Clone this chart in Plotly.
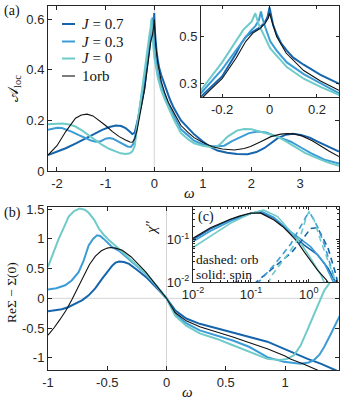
import plotly.graph_objects as go

W, H = 341, 403
def px(x): return x / W
def py(y): return 1 - y / H

# ---------------- data ----------------
series_names = ["J=0.7", "J=0.3", "J=0", "1orb"]
colors = ["#1565ad", "#3c9cd6", "#6fcbc9", "#111111"]
widths = [2.0, 2.0, 2.0, 1.1]

# (a) local spectral function A_loc(w)
wa_07 = [-2.185, -2.0, -1.82, -1.6, -1.41, -1.2, -1.07, -0.92, -0.79, -0.68, -0.59, -0.5, -0.45, -0.4, -0.35,
         -0.29, -0.25, -0.2, -0.17, -0.14, -0.12, -0.1, -0.08, -0.06, -0.04, -0.02, -0.008, 0.0, 0.004, 0.015,
         0.03, 0.05, 0.073, 0.1, 0.144, 0.215, 0.29, 0.33, 0.4, 0.55, 0.7, 0.82, 1.0, 1.16, 1.3, 1.5, 1.7, 1.92,
         2.1, 2.26, 2.4, 2.54, 2.7, 2.85, 3.02, 3.2, 3.36, 3.6, 3.8]
A_07 = [0.063, 0.077, 0.09, 0.11, 0.13, 0.15, 0.163, 0.174, 0.18, 0.178, 0.17, 0.155, 0.146, 0.152, 0.19,
        0.243, 0.28, 0.33, 0.38, 0.43, 0.47, 0.5, 0.515, 0.527, 0.54, 0.56, 0.585, 0.625, 0.6, 0.55,
        0.51, 0.47, 0.44, 0.41, 0.38, 0.337, 0.30, 0.28, 0.25, 0.2, 0.167, 0.145, 0.117, 0.094, 0.081, 0.072, 0.067, 0.066,
        0.075, 0.09, 0.11, 0.13, 0.143, 0.147, 0.143, 0.132, 0.116, 0.095, 0.077]

wa_03 = [-2.185, -2.0, -1.9, -1.7, -1.55, -1.41, -1.3, -1.2, -1.1, -1.0, -0.93, -0.85, -0.75, -0.65, -0.55,
         -0.48, -0.42, -0.36, -0.29, -0.2, -0.15, -0.12, -0.1, -0.08, -0.06, -0.045, -0.036, -0.03, -0.018,
         0.003, 0.03, 0.073, 0.144, 0.215, 0.29, 0.4, 0.55, 0.7, 0.82, 1.0, 1.16, 1.3, 1.44, 1.6, 1.78, 1.95,
         2.13, 2.3, 2.5, 2.65, 2.81, 3.0, 3.23, 3.5, 3.8]
A_03 = [0.163, 0.171, 0.17, 0.156, 0.142, 0.13, 0.121, 0.116, 0.118, 0.128, 0.131, 0.128, 0.117, 0.105, 0.097,
        0.095, 0.11, 0.17, 0.258, 0.36, 0.43, 0.47, 0.5, 0.525, 0.545, 0.57, 0.608, 0.58, 0.54,
        0.48, 0.44, 0.39, 0.34, 0.3, 0.26, 0.22, 0.165, 0.14, 0.12, 0.105, 0.098, 0.098, 0.1, 0.118, 0.136, 0.15,
        0.156, 0.152, 0.138, 0.126, 0.116, 0.095, 0.07, 0.045, 0.03]

wa_00 = [-2.185, -2.0, -1.89, -1.75, -1.62, -1.48, -1.34, -1.2, -1.07, -0.93, -0.79, -0.69, -0.59, -0.5, -0.45,
         -0.4, -0.35, -0.29, -0.2, -0.16, -0.13, -0.11, -0.09, -0.075, -0.06, -0.055, -0.045, -0.03, 0.003,
         0.073, 0.144, 0.215, 0.29, 0.4, 0.55, 0.7, 0.82, 1.0, 1.15, 1.25, 1.35, 1.51, 1.7, 1.85, 2.0, 2.2,
         2.54, 2.7, 2.88, 3.1, 3.3, 3.55, 3.8]
A_00 = [0.185, 0.188, 0.188, 0.184, 0.176, 0.16, 0.14, 0.12, 0.103, 0.088, 0.077, 0.07, 0.067, 0.07, 0.078,
        0.1, 0.18, 0.27, 0.39, 0.45, 0.5, 0.53, 0.55, 0.565, 0.6, 0.58, 0.55, 0.52, 0.45,
        0.37, 0.32, 0.285, 0.25, 0.205, 0.15, 0.125, 0.11, 0.1, 0.095, 0.093, 0.105, 0.136, 0.16, 0.166, 0.165, 0.155,
        0.136, 0.118, 0.097, 0.072, 0.055, 0.035, 0.021]

wa_1o = [-2.185, -2.0, -1.82, -1.62, -1.5, -1.38, -1.26, -1.14, -1.0, -0.86, -0.72, -0.59, -0.5, -0.45, -0.4,
         -0.35, -0.3, -0.25, -0.2, -0.14, -0.1, -0.07, -0.04, -0.02, -0.005, 0.0, 0.005, 0.015, 0.03, 0.07,
         0.144, 0.215, 0.29, 0.4, 0.55, 0.7, 0.82, 1.0, 1.2, 1.4, 1.65, 1.85, 1.98, 2.2, 2.4, 2.6, 2.74, 2.9,
         3.05, 3.25, 3.43, 3.6, 3.8]
A_1o = [0.063, 0.1, 0.156, 0.209, 0.222, 0.225, 0.218, 0.202, 0.18, 0.156, 0.136, 0.123, 0.115, 0.114, 0.128,
        0.165, 0.222, 0.272, 0.32, 0.41, 0.48, 0.515, 0.535, 0.555, 0.58, 0.6, 0.585, 0.545, 0.5, 0.43,
        0.355, 0.31, 0.272, 0.232, 0.18, 0.152, 0.132, 0.113, 0.096, 0.087, 0.083, 0.089, 0.097, 0.117, 0.136, 0.146, 0.148, 0.146,
        0.138, 0.12, 0.097, 0.078, 0.057]

# (b) Re Sigma(w) - Sigma(0)
wb_07 = [-1.0, -0.95, -0.884, -0.83, -0.77, -0.71, -0.657, -0.6, -0.543, -0.5, -0.458, -0.43, -0.4, -0.36, -0.316,
         -0.25, -0.174, -0.08, 0.0, 0.072, 0.166, 0.28, 0.42, 0.56, 0.7, 0.85, 1.045, 1.19, 1.3, 1.41, 1.46]
S_07 = [-0.22, -0.21, -0.185, -0.15, -0.09, -0.03, 0.05, 0.17, 0.33, 0.45, 0.55, 0.6, 0.62, 0.61, 0.58,
        0.48, 0.36, 0.17, 0.0, -0.2, -0.34, -0.43, -0.5, -0.57, -0.65, -0.73, -0.9, -1.02, -1.1, -1.2, -1.24]

wb_03 = [-1.0, -0.93, -0.855, -0.8, -0.742, -0.7, -0.657, -0.62, -0.586, -0.56, -0.53, -0.458, -0.4, -0.316,
         -0.174, -0.08, 0.0, 0.072, 0.166, 0.28, 0.42, 0.56, 0.7, 0.85, 0.99, 1.13, 1.2, 1.244, 1.29, 1.33,
         1.386, 1.42, 1.46]
S_03 = [0.15, 0.17, 0.22, 0.3, 0.44, 0.63, 0.89, 1.0, 1.06, 1.05, 1.0, 0.86, 0.8, 0.66,
        0.41, 0.19, 0.0, -0.26, -0.42, -0.54, -0.62, -0.71, -0.82, -0.99, -1.07, -1.1, -1.08, -1.04, -0.95, -0.82,
        -0.6, -0.45, -0.3]

wb_00 = [-1.0, -0.95, -0.91, -0.86, -0.827, -0.78, -0.733, -0.69, -0.657, -0.61, -0.57, -0.53, -0.487, -0.4,
         -0.316, -0.174, -0.08, 0.0, 0.072, 0.166, 0.28, 0.42, 0.56, 0.705, 0.85, 0.96, 1.02, 1.074, 1.13,
         1.187, 1.23, 1.27, 1.33, 1.38]
S_00 = [0.53, 0.8, 1.0, 1.22, 1.37, 1.47, 1.51, 1.49, 1.44, 1.32, 1.17, 1.07, 0.98, 0.83,
        0.67, 0.415, 0.2, 0.0, -0.29, -0.46, -0.59, -0.68, -0.79, -0.9, -1.02, -1.04, -1.02, -0.96, -0.8,
        -0.54, -0.33, -0.15, 0.13, 0.27]

wb_1o = [-1.0, -0.95, -0.9, -0.85, -0.8, -0.75, -0.7, -0.65, -0.6, -0.55, -0.5, -0.472, -0.43, -0.373, -0.3,
         -0.174, -0.08, 0.0, 0.072, 0.166, 0.28, 0.42, 0.56, 0.7, 0.85, 1.0, 1.045, 1.15, 1.27, 1.32]
S_1o = [-0.62, -0.5, -0.36, -0.21, -0.03, 0.17, 0.38, 0.57, 0.71, 0.8, 0.845, 0.855, 0.845, 0.81, 0.7,
        0.44, 0.2, 0.0, -0.24, -0.38, -0.48, -0.56, -0.65, -0.75, -0.85, -0.97, -1.02, -1.1, -1.2, -1.25]

# (c) chi''(w): solid = spin, dashed = orbital
wc_spin_07 = [0.01, 0.02, 0.044, 0.1, 0.126, 0.148, 0.25, 0.49, 0.63, 0.83, 1.41, 2.14, 2.75, 2.95]
chi_spin_07 = [0.1, 0.178, 0.29, 0.417, 0.437, 0.43, 0.316, 0.141, 0.107, 0.074, 0.044, 0.021, 0.0112, 0.0089]
wc_spin_03 = [0.01, 0.02, 0.044, 0.1, 0.148, 0.25, 0.49, 0.63, 1.07, 1.86, 2.57, 2.75]
chi_spin_03 = [0.089, 0.158, 0.269, 0.407, 0.468, 0.331, 0.151, 0.117, 0.068, 0.0275, 0.0112, 0.0089]
wc_spin_00 = [0.01, 0.02, 0.044, 0.1, 0.166, 0.288, 0.49, 0.724, 1.07, 1.62, 1.905]
chi_spin_00 = [0.0646, 0.117, 0.24, 0.417, 0.49, 0.347, 0.151, 0.0813, 0.0363, 0.0145, 0.0089]
wc_spin_1o = [0.01, 0.02, 0.044, 0.063, 0.1, 0.126, 0.148, 0.25, 0.355, 0.49, 0.63, 0.83, 1.41, 2.0, 2.24]
chi_spin_1o = [0.107, 0.19, 0.30, 0.355, 0.417, 0.427, 0.417, 0.288, 0.2, 0.129, 0.089, 0.051, 0.019, 0.0112, 0.0089]

wc_orb_07 = [0.112, 0.251, 0.49, 0.724, 1.072, 1.413, 2.138, 2.951, 3.16]
chi_orb_07 = [0.0089, 0.0229, 0.0479, 0.0891, 0.182, 0.191, 0.0631, 0.0145, 0.0089]
wc_orb_03 = [0.126, 0.251, 0.49, 0.724, 0.933, 1.072, 1.413, 1.862, 2.57, 2.951]
chi_orb_03 = [0.0089, 0.0251, 0.0794, 0.2, 0.38, 0.398, 0.2, 0.0741, 0.0174, 0.0089]
wc_orb_00 = [0.2, 0.219, 0.427, 0.724, 0.891, 1.0, 1.202, 1.622, 2.754, 2.951]
chi_orb_00 = [0.0089, 0.0132, 0.0437, 0.126, 0.316, 0.447, 0.316, 0.0891, 0.0123, 0.0089]

# tick labels
a_xticks = [-2, -1, 0, 1, 2, 3]
a_yticks = [0, 0.2, 0.4, 0.6]
ai_xticks = [-0.2, 0, 0.2]
ai_yticks = [0.3, 0.5]
b_xticks = [-1, -0.5, 0, 0.5, 1]
b_yticks = [-1, -0.5, 0, 0.5, 1, 1.5]
c_xticks = [0.01, 0.1, 1]
c_xtext = ["10<sup>-2</sup>", "10<sup>-1</sup>", "10<sup>0</sup>"]
c_yticks = [0.01, 0.1]
c_ytext = ["10<sup>-2</sup>", "10<sup>-1</sup>"]

def lab(v):
    return "%g" % v

# ---------------- figure ----------------
fig = go.Figure()

a_data = [(wa_07, A_07), (wa_03, A_03), (wa_00, A_00), (wa_1o, A_1o)]
b_data = [(wb_07, S_07), (wb_03, S_03), (wb_00, S_00), (wb_1o, S_1o)]
for (w, a), c, lw, n in zip(a_data, colors, widths, series_names):
    fig.add_trace(go.Scatter(x=w, y=a, mode="lines", name=n, line=dict(color=c, width=lw),
                             xaxis="x", yaxis="y", showlegend=False))
for (w, a), c, lw, n in zip(a_data, colors, widths, series_names):
    fig.add_trace(go.Scatter(x=w, y=a, mode="lines", name=n, line=dict(color=c, width=lw),
                             xaxis="x2", yaxis="y2", showlegend=False))
for (w, s), c, lw, n in zip(b_data, colors, widths, series_names):
    fig.add_trace(go.Scatter(x=w, y=s, mode="lines", name=n, line=dict(color=c, width=lw),
                             xaxis="x3", yaxis="y3", showlegend=False))

spin = [(wc_spin_07, chi_spin_07), (wc_spin_03, chi_spin_03), (wc_spin_00, chi_spin_00), (wc_spin_1o, chi_spin_1o)]
orb = [(wc_orb_07, chi_orb_07), (wc_orb_03, chi_orb_03), (wc_orb_00, chi_orb_00)]
for (w, v), c, lw, n in zip(spin, colors, [1.6, 1.6, 1.6, 1.1], series_names):
    fig.add_trace(go.Scatter(x=w, y=v, mode="lines", name=n + " spin", line=dict(color=c, width=lw),
                             xaxis="x4", yaxis="y4", showlegend=False))
for (w, v), c, n in zip(orb, colors[:3], series_names[:3]):
    fig.add_trace(go.Scatter(x=w, y=v, mode="lines", name=n + " orb",
                             line=dict(color=c, width=1.6, dash="6px,4px"),
                             xaxis="x4", yaxis="y4", showlegend=False))

AX = "#262626"
TF = dict(family="Liberation Sans, Arial, sans-serif", size=13, color=AX)
def axis(**kw):
    d = dict(showline=True, linecolor=AX, linewidth=1, mirror="allticks", ticks="inside",
             ticklen=4, tickcolor=AX, showgrid=False, zeroline=False, tickfont=TF, automargin=False)
    d.update(kw)
    return d

fig.update_layout(
    template="none",
    width=W, height=403, autosize=False,
    margin=dict(l=0, r=0, t=0, b=0, pad=0),
    paper_bgcolor="white", plot_bgcolor="white",
    hovermode=False,
    xaxis=axis(domain=[px(48), px(339)], range=[-2.185, 3.80], anchor="y",
               tickvals=a_xticks, ticktext=[lab(v) for v in a_xticks]),
    yaxis=axis(domain=[py(171), py(6)], range=[0, 0.653], anchor="x",
               tickvals=a_yticks, ticktext=[lab(v) for v in a_yticks]),
    xaxis2=axis(domain=[px(201), px(339)], range=[-0.289, 0.293], anchor="y2",
                tickvals=ai_xticks, ticktext=[lab(v) for v in ai_xticks], ticklen=3),
    yaxis2=axis(domain=[py(97), py(6)], range=[0.242, 0.631], anchor="x2",
                tickvals=ai_yticks, ticktext=[lab(v) for v in ai_yticks], ticklen=3),
    xaxis3=axis(domain=[px(48), px(339)], range=[-1.0, 1.455], anchor="y3",
                tickvals=b_xticks, ticktext=[lab(v) for v in b_xticks]),
    yaxis3=axis(domain=[py(370), py(207)], range=[-1.207, 1.537], anchor="x3",
                tickvals=b_yticks, ticktext=[lab(v) for v in b_yticks]),
    xaxis4=axis(type="log", domain=[px(193), px(339)], range=[-2.0, 0.52], anchor="y4",
                tickvals=c_xticks, ticktext=c_xtext, ticklen=3,
                minor=dict(ticks="inside", ticklen=2, tickcolor=AX,
                           tickvals=[0.02, 0.03, 0.04, 0.05, 0.06, 0.07, 0.08, 0.09,
                                     0.2, 0.3, 0.4, 0.5, 0.6, 0.7, 0.8, 0.9, 2, 3])),
    yaxis4=axis(type="log", domain=[py(282), py(207)], range=[-2.0, -0.235], anchor="x4",
                tickvals=c_yticks, ticktext=c_ytext, ticklen=3,
                minor=dict(ticks="inside", ticklen=2, tickcolor=AX,
                           tickvals=[0.02, 0.03, 0.04, 0.05, 0.06, 0.07, 0.08, 0.09,
                                     0.2, 0.3, 0.4, 0.5])),
)

GREY = "#d4d4d4"
shapes = [
    dict(type="line", xref="x", yref="y domain", x0=0, x1=0, y0=0, y1=1, line=dict(color=GREY, width=1), layer="below"),
    dict(type="line", xref="x2", yref="y2 domain", x0=0, x1=0, y0=0, y1=1, line=dict(color=GREY, width=1), layer="below"),
    dict(type="line", xref="x3", yref="y3 domain", x0=0, x1=0, y0=0, y1=1, line=dict(color=GREY, width=1), layer="below"),
    dict(type="line", xref="x3 domain", yref="y3", x0=0, x1=1, y0=0, y1=0, line=dict(color=GREY, width=1), layer="below"),
]
# legend samples
leg_rows = [24, 41.5, 58.5, 76]
leg_text = ["<i>J</i> = 0.7", "<i>J</i> = 0.3", "<i>J</i> = 0", "1orb"]
for yy, c, lw in zip(leg_rows, colors, widths):
    shapes.append(dict(type="line", xref="paper", yref="paper", x0=px(62), x1=px(75), y0=py(yy), y1=py(yy),
                       line=dict(color=c, width=lw)))
fig.update_layout(shapes=shapes)

SERIF = "Liberation Serif, DejaVu Serif, serif"
ann = []
def txt(x, y, s, size=14, xa="center", ya="middle", angle=0, fam=SERIF):
    ann.append(dict(x=px(x), y=py(y), xref="paper", yref="paper", text=s, showarrow=False,
                    xanchor=xa, yanchor=ya, textangle=angle, borderpad=0,
                    font=dict(family=fam, size=size, color="#111111")))

for yy, t in zip(leg_rows, leg_text):
    txt(81, yy, t, size=15, xa="left")
txt(12, 11, "(a)", size=14)
txt(12, 213, "(b)", size=14)
txt(206, 217, "(c)", size=14)
txt(195, 259, "dashed: orb", size=13.5, xa="left")
txt(195, 274, "solid: spin", size=13.5, xa="left")
txt(190, 193, "<i>ω</i>", size=15)
txt(188, 392, "<i>ω</i>", size=15)
txt(14, 89, "𝒜<sub>loc</sub>", size=15, angle=-90)
txt(11, 293, "ReΣ − Σ(0)", size=13.5, angle=-90)
txt(151, 228, "<i>χ</i>″", size=15, angle=-90)
fig.update_layout(annotations=ann)

fig.write_html("out.html",
               config={"displayModeBar": False, "staticPlot": True},
               post_script="document.body.style.margin='0';document.body.style.padding='0';"
                           "document.body.style.overflow='hidden';")
